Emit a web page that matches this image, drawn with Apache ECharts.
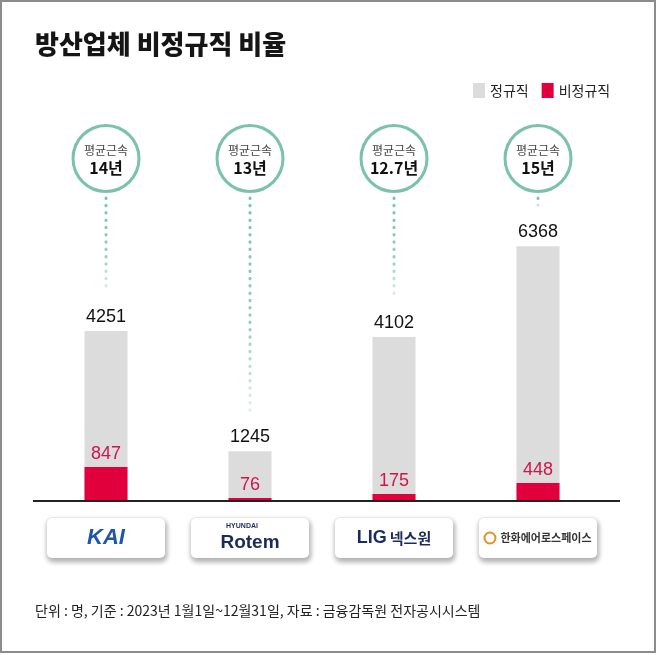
<!DOCTYPE html>
<html>
<head>
<meta charset="utf-8">
<style>
  html, body { margin: 0; padding: 0; background: #fff; }
  #chart { width: 658px; height: 655px; }
</style>
</head>
<body>
<div id="chart"></div>
<script src="https://cdn.jsdelivr.net/npm/echarts@6/dist/echarts.min.js"></script>
<script>
// 방산업체 정규직 / 비정규직 인원 (단위: 명)
const companies = ['KAI', '현대로템', 'LIG넥스원', '한화에어로스페이스']
const regular = [4251, 1245, 4102, 6368]
const irregular = [847, 76, 175, 448]
const tenure = ['14', '13', '12.7', '15']

const KR = '"Noto Sans CJK KR", sans-serif'
const NUM = '"Liberation Sans", Arial, sans-serif'
const TEAL = '#7cc1ab'
const NAVY = '#1b2b5e'

// bottom logo boxes, one rich string per company
const logo = {
  'KAI': '{kai|KAI}',
  '현대로템': '{hy|HYUNDAI}\n{rotem|Rotem}',
  'LIG넥스원': '{lig|LIG}{nex|넥스원}',
  '한화에어로스페이스': '{ring| }{hw|한화에어로스페이스}'
}

const chart = echarts.init(document.getElementById('chart'))

chart.setOption({
  animation: false,
  backgroundColor: '#fff',
  title: [{
    text: '방산업체 비정규직 비율',
    left: 30,
    top: 26,
    textStyle: { fontFamily: KR, fontSize: 26, fontWeight: 900, color: '#151515' }
  }, {
    text: '단위 : 명, 기준 : 2023년 1월1일~12월31일, 자료 : 금융감독원 전자공시시스템',
    left: 30,
    top: 599,
    textStyle: { fontFamily: KR, fontSize: 14, fontWeight: 'normal', color: '#222' }
  }],
  legend: {
    data: ['정규직', '비정규직'],
    left: 468,
    top: 78,
    icon: 'rect',
    itemWidth: 12,
    itemHeight: 15,
    itemGap: 13,
    textStyle: { fontFamily: KR, fontSize: 14, color: '#222' }
  },
  grid: { left: 34, right: 48, top: 198, bottom: 154 },
  xAxis: [{
    type: 'category',
    data: companies,
    axisLine: { show: false },
    axisTick: { show: false },
    axisLabel: {
      interval: 0,
      margin: 17,
      formatter: v => logo[v],
      width: 118,
      height: 40,
      backgroundColor: '#fff',
      borderRadius: 5,
      borderColor: '#ececec',
      borderWidth: 1,
      shadowColor: 'rgba(0,0,0,0.28)',
      shadowBlur: 5,
      shadowOffsetX: 1,
      shadowOffsetY: 3,
      rich: {
        kai: { fontFamily: NUM, fontSize: 22, fontWeight: 'bold', fontStyle: 'italic', color: '#1f56a8', lineHeight: 40 },
        hy: { fontFamily: NUM, fontSize: 7, fontWeight: 'bold', color: NAVY, lineHeight: 16, padding: [0, 16, 0, 0] },
        rotem: { fontFamily: '"Liberation Sans Narrow", "Liberation Sans", sans-serif', fontSize: 19, fontWeight: 'bold', color: NAVY, lineHeight: 18 },
        lig: { fontFamily: NUM, fontSize: 18, fontWeight: 'bold', color: NAVY, lineHeight: 40 },
        nex: { fontFamily: KR, fontSize: 15, fontWeight: 'bold', color: NAVY, lineHeight: 40, padding: [0, 0, 0, 3] },
        ring: { width: 11, height: 11, borderColor: '#e8901f', borderWidth: 2, borderRadius: 7, lineHeight: 40 },
        hw: { fontFamily: KR, fontSize: 11, fontWeight: 'bold', color: '#333', lineHeight: 40, padding: [0, 0, 0, 5] }
      }
    }
  }, {
    type: 'category',
    position: 'top',
    data: companies,
    axisLine: { show: false },
    axisTick: { show: false },
    axisLabel: {
      interval: 0,
      margin: 8,
      formatter: (v, i) => '{a|평균근속}\n{b|' + tenure[i] + '년}',
      width: 63,
      padding: [15, 0, 14, 0],
      backgroundColor: '#fff',
      borderColor: TEAL,
      borderWidth: 3,
      borderRadius: 31.5,
      rich: {
        a: { fontFamily: KR, fontSize: 12, color: '#444', lineHeight: 17 },
        b: { fontFamily: KR, fontSize: 16, fontWeight: 'bold', color: '#111', lineHeight: 17 }
      }
    }
  }],
  yAxis: { type: 'value', min: 0, max: 7575, show: false },
  series: [{
    name: '정규직',
    type: 'bar',
    data: regular,
    barWidth: 43,
    itemStyle: { color: '#dcdcdc' },
    label: {
      show: true,
      position: 'top',
      distance: 5,
      fontFamily: NUM,
      fontSize: 18,
      color: '#111'
    }
  }, {
    name: '비정규직',
    type: 'bar',
    data: irregular,
    barWidth: 43,
    barGap: '-100%',
    itemStyle: { color: '#e2003c' },
    label: {
      show: true,
      position: 'top',
      distance: 4,
      fontFamily: NUM,
      fontSize: 18,
      color: '#d0144a'
    }
  }, {
    name: 'dots',
    type: 'custom',
    data: regular.map((v, i) => [i, v]),
    encode: { x: 0, y: 1 },
    silent: true,
    renderItem(params, api) {
      const p = api.coord([api.value(0), api.value(1)])
      const top = params.coordSys.y
      const end = p[1] - 40
      return {
        type: 'line',
        shape: { x1: p[0], y1: top, x2: p[0], y2: end },
        style: {
          stroke: new echarts.graphic.LinearGradient(0, top, 0, end, [
            { offset: 0, color: TEAL },
            { offset: 0.6, color: 'rgba(124,193,171,0.8)' },
            { offset: 1, color: 'rgba(124,193,171,0.25)' }
          ], true),
          lineWidth: 3,
          lineDash: [0.5, 6.8],
          lineCap: 'round'
        }
      }
    }
  }],
  graphic: [{
    type: 'line',
    shape: { x1: 33, y1: 501, x2: 620, y2: 501 },
    style: { stroke: '#222', lineWidth: 2 },
    z: 10
  }, {
    type: 'rect',
    shape: { x: 1, y: 1, width: 654, height: 651 },
    style: { fill: 'none', stroke: '#8c8c8c', lineWidth: 2 },
    silent: true,
    z: 100
  }]
})
</script>
</body>
</html>
